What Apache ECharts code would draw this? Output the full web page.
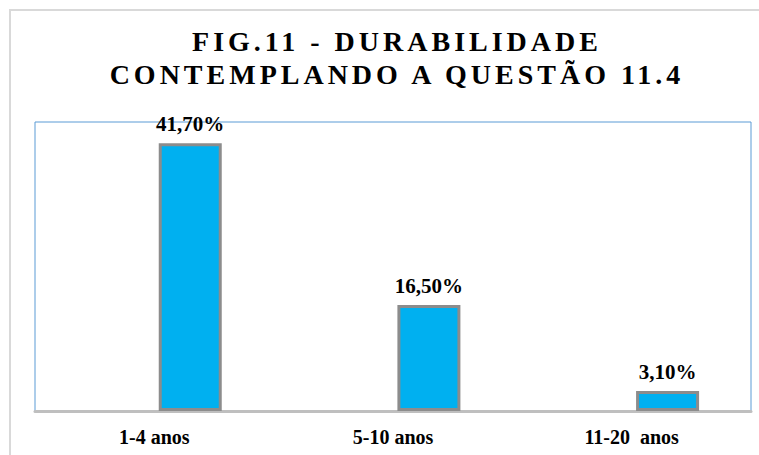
<!DOCTYPE html>
<html>
<head>
<meta charset="utf-8">
<script src="https://cdn.jsdelivr.net/npm/echarts@6/dist/echarts.min.js"></script>
<style>
  html, body { margin: 0; padding: 0; background: #fff; }
  #main { width: 759px; height: 455px; }
</style>
</head>
<body>
<div id="main"></div>
<script>
// dados
var categorias = ['1-4 anos', '5-10 anos', '11-20  anos'];
var percentuais = [41.7, 16.5, 3.1];
var vazio = [null, null, null];
var tituloLinhas = ['FIG.11 - DURABILIDADE', 'CONTEMPLANDO A QUESTÃO 11.4'];

var myChart = echarts.init(document.getElementById('main'), null, {renderer: 'svg'});

var fonte = '"Liberation Serif", "Times New Roman", serif';

var option = {
  backgroundColor: '#fff',
  animation: false,
  title: {
    text: tituloLinhas.join('\n'),
    left: 392,
    top: 20,
    textAlign: 'center',
    textStyle: {
      fontFamily: fonte,
      fontWeight: 'bold',
      fontSize: 28,
      lineHeight: 33,
      color: '#000'
    }
  },
  graphic: [{
    type: 'rect',
    shape: {x: 10, y: 10, width: 800, height: 500},
    style: {fill: 'none', stroke: '#d9d9d9', lineWidth: 2},
    silent: true,
    z: -1
  }],
  grid: {
    left: 35,
    right: 8,
    top: 122,
    bottom: 44,
    show: true,
    borderColor: '#5b9bd5',
    borderWidth: 1
  },
  xAxis: {
    type: 'category',
    data: categorias,
    axisTick: {show: false},
    axisLine: {lineStyle: {color: '#bfbfbf', width: 3}},
    axisLabel: {
      margin: 16,
      fontFamily: fonte,
      fontWeight: 'bold',
      fontSize: 20,
      color: '#000'
    }
  },
  yAxis: {
    type: 'value',
    min: 0,
    max: 45,
    show: false,
    splitLine: {show: false}
  },
  series: [
    {
      type: 'bar',
      data: vazio,
      barWidth: 63,
      barGap: '14%'
    },
    {
      type: 'bar',
      data: percentuais,
      barWidth: 63,
      barGap: '14%',
      itemStyle: {
        color: '#00b0f0',
        borderColor: '#8c8c8c',
        borderWidth: 3
      },
      label: {
        show: true,
        position: 'top',
        distance: 9,
        fontFamily: fonte,
        fontWeight: 'bold',
        fontSize: 21,
        color: '#000',
        formatter: function (p) {
          return p.value.toFixed(2).replace('.', ',') + '%';
        }
      }
    }
  ]
};

myChart.setOption(option);

// espaçamento entre letras do título (o svg aceita letter-spacing)
var textos = document.querySelectorAll('#main svg text');
textos.forEach(function (t) {
  if (tituloLinhas.indexOf(t.textContent) >= 0) {
    t.setAttribute('letter-spacing', '4');
  }
});
</script>
</body>
</html>
